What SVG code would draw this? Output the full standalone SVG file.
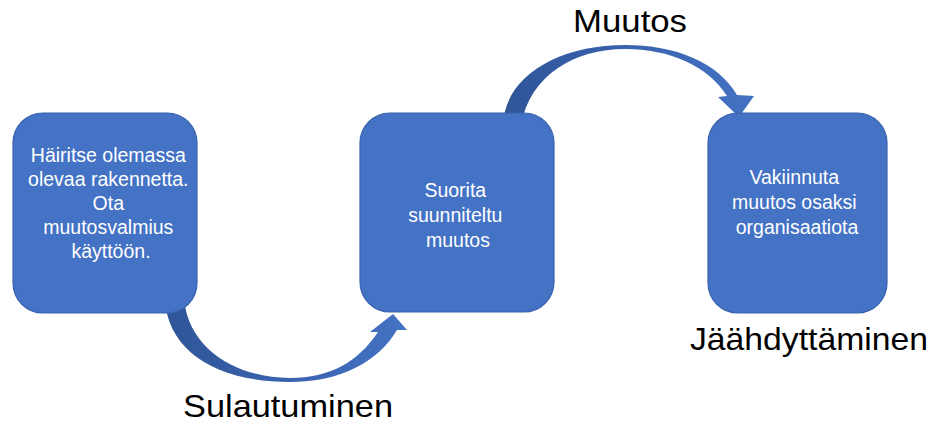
<svg xmlns="http://www.w3.org/2000/svg" width="935" height="425" viewBox="0 0 935 425">
  <style>
    .box { fill: #4472C4; stroke: #3A63AE; stroke-width: 1.2; }
    .inner { font-family: "Liberation Sans", Arial, sans-serif; font-size: 19.5px; fill: #FFFFFF; text-anchor: middle; }
    .phase { font-family: "Liberation Sans", Arial, sans-serif; font-size: 32px; fill: #000000; }
  </style>
  <defs>
    <linearGradient id="arrowShadeLow" x1="165" y1="0" x2="407" y2="0" gradientUnits="userSpaceOnUse">
      <stop offset="0" stop-color="#2F5597"/>
      <stop offset="0.5" stop-color="#3A63AE"/>
      <stop offset="1" stop-color="#4472C4"/>
    </linearGradient>
    <linearGradient id="arrowShadeHigh" x1="503" y1="0" x2="754" y2="0" gradientUnits="userSpaceOnUse">
      <stop offset="0" stop-color="#2F5597"/>
      <stop offset="0.5" stop-color="#3A63AE"/>
      <stop offset="1" stop-color="#4472C4"/>
    </linearGradient>
  </defs>

  <!-- curved connectors, drawn beneath the boxes -->
  <g id="connectors">
    <path d="M165,300 C168,350 215,382 290,382 C340,382 378,362 397,330 L407,330 L393,314 L370,332 L378,332 C358,362 330,378 290,378 C240,378 190,352 184,300 Z" fill="url(#arrowShadeLow)"/>
    <path d="M503,125 C505,75 560,45 625,45 C675,45 718,62 737,95 L754,96 L739,117 L718,97 L727,96 C708,66 670,49 625,49 C575,49 530,75 521,125 Z" fill="url(#arrowShadeHigh)"/>
  </g>

  <g id="node-unfreeze">
    <rect class="box" x="13" y="113" width="184" height="200" rx="30" ry="30"/>
    <text class="inner">
      <tspan x="111" y="162">Häiritse olemassa</tspan>
      <tspan x="111" y="186">olevaa rakennetta.</tspan>
      <tspan x="111" y="210">Ota</tspan>
      <tspan x="111" y="234">muutosvalmius</tspan>
      <tspan x="111" y="258">käyttöön.</tspan>
    </text>
  </g>

  <g id="node-change">
    <rect class="box" x="360" y="113" width="194" height="199" rx="30" ry="30"/>
    <text class="inner">
      <tspan x="458" y="197">Suorita</tspan>
      <tspan x="458" y="222">suunniteltu</tspan>
      <tspan x="458" y="247">muutos</tspan>
    </text>
  </g>

  <g id="node-refreeze">
    <rect class="box" x="708" y="113" width="179" height="200" rx="30" ry="30"/>
    <text class="inner">
      <tspan x="797" y="184">Vakiinnuta</tspan>
      <tspan x="797" y="209">muutos osaksi</tspan>
      <tspan x="797" y="234">organisaatiota</tspan>
    </text>
  </g>

  <g id="phase-labels">
    <text class="phase" x="573" y="32" textLength="114" lengthAdjust="spacingAndGlyphs">Muutos</text>
    <text class="phase" x="183" y="417" textLength="210" lengthAdjust="spacingAndGlyphs">Sulautuminen</text>
    <text class="phase" x="690" y="350" textLength="238" lengthAdjust="spacingAndGlyphs">Jäähdyttäminen</text>
  </g>
</svg>
